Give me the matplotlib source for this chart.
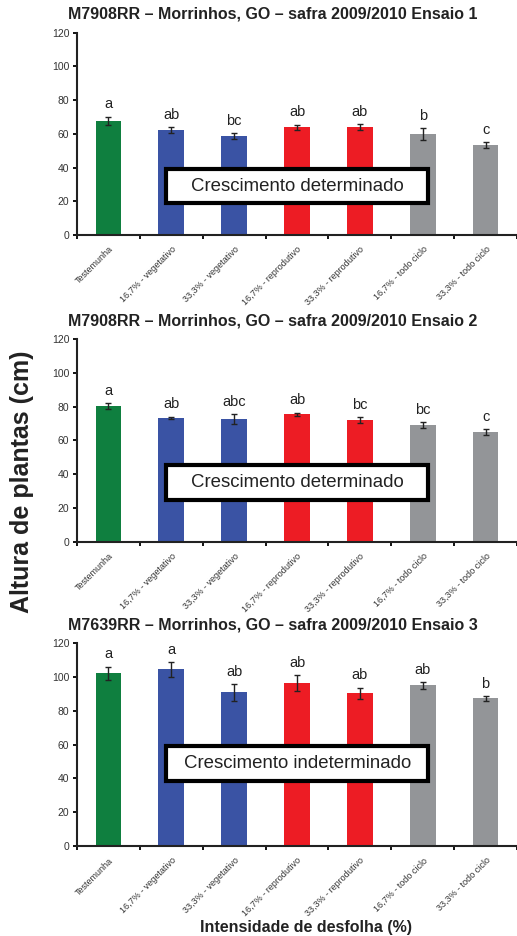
import matplotlib
matplotlib.use('Agg')
import matplotlib.pyplot as plt
import matplotlib.transforms as mtrans
from matplotlib.patches import Rectangle

plt.rcParams['font.family'] = ['Liberation Sans', 'DejaVu Sans']

categories = ['Testemunha', '16,7% - vegetativo', '33,3% - vegetativo',
              '16,7% - reprodutivo', '33,3% - reprodutivo',
              '16,7% - todo ciclo', '33,3% - todo ciclo']
bar_colors = ['#0f7f3f', '#3a53a4', '#3a53a4', '#ed1c24', '#ed1c24', '#939598', '#939598']

titles = ['M7908RR \u2013 Morrinhos, GO \u2013 safra 2009/2010 Ensaio 1',
          'M7908RR \u2013 Morrinhos, GO \u2013 safra 2009/2010 Ensaio 2',
          'M7639RR \u2013 Morrinhos, GO \u2013 safra 2009/2010 Ensaio 3']

heights_1 = [67.6, 62.3, 58.7, 64.0, 64.0, 59.9, 53.4]
errors_1 = [2.5, 1.8, 1.7, 1.5, 1.6, 3.6, 1.8]
letters_1 = ['a', 'ab', 'bc', 'ab', 'ab', 'b', 'c']

heights_2 = [80.1, 73.2, 72.6, 75.5, 72.0, 69.0, 64.9]
errors_2 = [1.8, 0.8, 2.9, 0.8, 1.8, 1.7, 1.8]
letters_2 = ['a', 'ab', 'abc', 'ab', 'bc', 'bc', 'c']

heights_3 = [102.1, 104.4, 90.8, 96.2, 90.2, 95.0, 87.3]
errors_3 = [4.0, 4.4, 4.8, 4.8, 3.3, 1.9, 1.3]
letters_3 = ['a', 'a', 'ab', 'ab', 'ab', 'ab', 'b']

box_texts = ['Crescimento determinado', 'Crescimento determinado', 'Crescimento indeterminado']

panels = [(heights_1, errors_1, letters_1),
          (heights_2, errors_2, letters_2),
          (heights_3, errors_3, letters_3)]

# axes rectangles in figure fraction (left, bottom, width, height)
ax_rects = [(0.149, 0.749, 0.851, 0.216),
            (0.149, 0.421, 0.851, 0.217),
            (0.149, 0.096, 0.851, 0.217)]
box_y = [(19, 39), (24.5, 45.5), (38.5, 59)]  # white label box extents (data units)

fig = plt.figure(figsize=(5.17, 9.36), dpi=100)
shift = mtrans.ScaledTranslation(-3 / 72, 0, fig.dpi_scale_trans)

for i, (h, e, lets) in enumerate(panels):
    ax = fig.add_axes(ax_rects[i])
    x = list(range(len(categories)))
    ax.bar(x, h, width=0.41, color=bar_colors, zorder=2)
    ax.errorbar(x, h, yerr=e, fmt='none', ecolor='#222222', elinewidth=1,
                capsize=2, capthick=1, zorder=3)
    for xi, hi, ei, li in zip(x, h, e, lets):
        ax.text(xi, hi + ei + 3.2, li, ha='center', va='bottom', fontsize=10.5, color='#222222')

    ax.set_xlim(-0.5, 6.43)
    ax.set_ylim(0, 120)
    ax.set_yticks(range(0, 121, 20))
    ax.set_xticks([k - 0.5 for k in range(8)])
    ax.set_xticklabels([])
    ax.set_xticks(x, minor=True)
    ax.set_xticklabels(categories, minor=True, rotation=45, ha='right',
                       rotation_mode='anchor', fontsize=6.5, color='#333333')
    for lab in ax.get_xticklabels(minor=True):
        lab.set_transform(lab.get_transform() + shift)
    ax.tick_params(axis='x', which='minor', length=0, pad=7)
    ax.tick_params(axis='x', which='major', length=3, width=1.3, direction='out')
    ax.tick_params(axis='y', length=3, width=1.3, direction='out', labelsize=7.5,
                   labelcolor='#333333', pad=2.5)
    for s in ['top', 'right']:
        ax.spines[s].set_visible(False)
    for s in ['left', 'bottom']:
        ax.spines[s].set_linewidth(1.5)
        ax.spines[s].set_color('#222222')

    y0, y1 = box_y[i]
    ax.add_patch(Rectangle((0.92, y0), 4.17, y1 - y0, facecolor='white',
                           edgecolor='black', linewidth=3, zorder=4))
    ax.text(3.005, (y0 + y1) / 2, box_texts[i], ha='center', va='center',
            fontsize=13.4, color='#222222', zorder=5)

    top = ax_rects[i][1] + ax_rects[i][3]
    fig.text(0.528, top + 0.0115, titles[i], ha='center', va='bottom',
             fontsize=11.5, fontweight='bold', color='#222222')

fig.text(0.043, 0.485, 'Altura de plantas (cm)', rotation=90, ha='center', va='center',
         fontsize=18, fontweight='bold', color='#222222')
fig.text(0.592, 0.0095, 'Intensidade de desfolha (%)', ha='center', va='center',
         fontsize=11.5, fontweight='bold', color='#222222')

fig.savefig('out.png', dpi=100)
